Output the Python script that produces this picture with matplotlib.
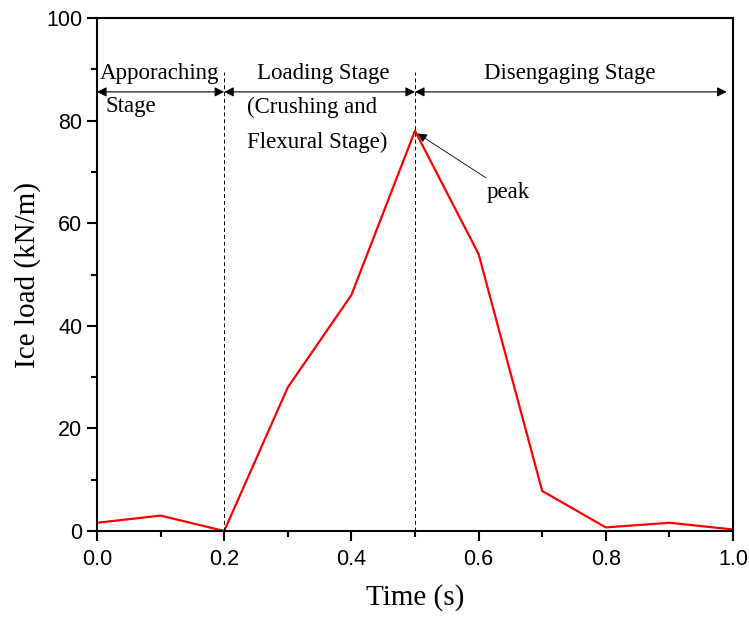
import matplotlib

matplotlib.use("Agg")
import matplotlib.pyplot as plt  # noqa: E402
from matplotlib.ticker import MultipleLocator  # noqa: E402

plt.rcParams.update(
    {
        "font.family": "Liberation Serif",
        "axes.linewidth": 1.5,
        "xtick.direction": "out",
        "ytick.direction": "out",
        "xtick.major.width": 1.5,
        "ytick.major.width": 1.5,
        "xtick.minor.width": 1.5,
        "ytick.minor.width": 1.5,
        "xtick.major.size": 7,
        "ytick.major.size": 7,
        "xtick.minor.size": 4,
        "ytick.minor.size": 4,
    }
)

# ice load time history
time_s = [0.0, 0.1, 0.2, 0.3, 0.4, 0.5, 0.6, 0.7, 0.8, 0.9, 1.0]
load_kn = [1.6, 3.0, 0.0, 28.0, 46.0, 78.0, 54.0, 7.8, 0.7, 1.6, 0.3]

# stage boundaries and labels
stage_edges = [0.0, 0.2, 0.5, 1.0]
boundaries = [0.2, 0.5]
peak_t, peak_load = 0.5, 78.0

fig = plt.figure(figsize=(7.49, 6.17), dpi=100)
ax = fig.add_axes([0.1295, 0.1394, 0.8491, 0.8314])

ax.plot(time_s, load_kn, color="#ff0000", lw=1.6)

for b in boundaries:
    ax.plot([b, b], [0, 89.5], color="black", lw=0.7, ls=(0, (4, 3)))

arrow_y = 85.6
for a, b in zip(stage_edges[:-1], stage_edges[1:]):
    end = b - 0.01 if b == 1.0 else b
    ax.annotate(
        "",
        xy=(end, arrow_y),
        xytext=(a, arrow_y),
        arrowprops=dict(arrowstyle="<|-|>", color="black", lw=0.8,
                        mutation_scale=14, shrinkA=0, shrinkB=0),
    )

fs = 16.5
ax.text(0.005, 89.1, "Apporaching", fontsize=fs, ha="left", va="center")
ax.text(0.013, 82.8, "Stage", fontsize=fs, ha="left", va="center")
ax.text(0.355, 89.1, "Loading Stage", fontsize=fs, ha="center", va="center")
ax.text(0.236, 82.5, "(Crushing and", fontsize=fs, ha="left", va="center")
ax.text(0.236, 75.8, "Flexural Stage)", fontsize=fs, ha="left", va="center")
ax.text(0.744, 89.1, "Disengaging Stage", fontsize=fs, ha="center", va="center")

ax.annotate(
    "peak",
    xy=(peak_t + 0.004, peak_load - 0.5),
    xytext=(0.613, 66.0),
    fontsize=fs,
    ha="left",
    va="center",
    arrowprops=dict(arrowstyle="-|>", color="black", lw=0.6,
                    mutation_scale=14, shrinkA=2, shrinkB=0),
)

ax.set_xlim(0, 1.0)
ax.set_ylim(0, 100)
ax.xaxis.set_major_locator(MultipleLocator(0.2))
ax.xaxis.set_minor_locator(MultipleLocator(0.1))
ax.yaxis.set_major_locator(MultipleLocator(20))
ax.yaxis.set_minor_locator(MultipleLocator(10))
ax.set_xticklabels([f"{v:.1f}" for v in ax.get_xticks()], family="Liberation Sans", fontsize=15.5)
ax.set_yticklabels([f"{v:.0f}" for v in ax.get_yticks()], family="Liberation Sans", fontsize=15.5)
ax.tick_params(axis="both", which="both", top=False, right=False)
ax.tick_params(axis="x", pad=6)

ax.set_xlabel("Time (s)", fontsize=21, labelpad=10)
ax.set_ylabel("Ice load (kN/m)", fontsize=21, labelpad=4)

fig.savefig("out.png", dpi=100)
